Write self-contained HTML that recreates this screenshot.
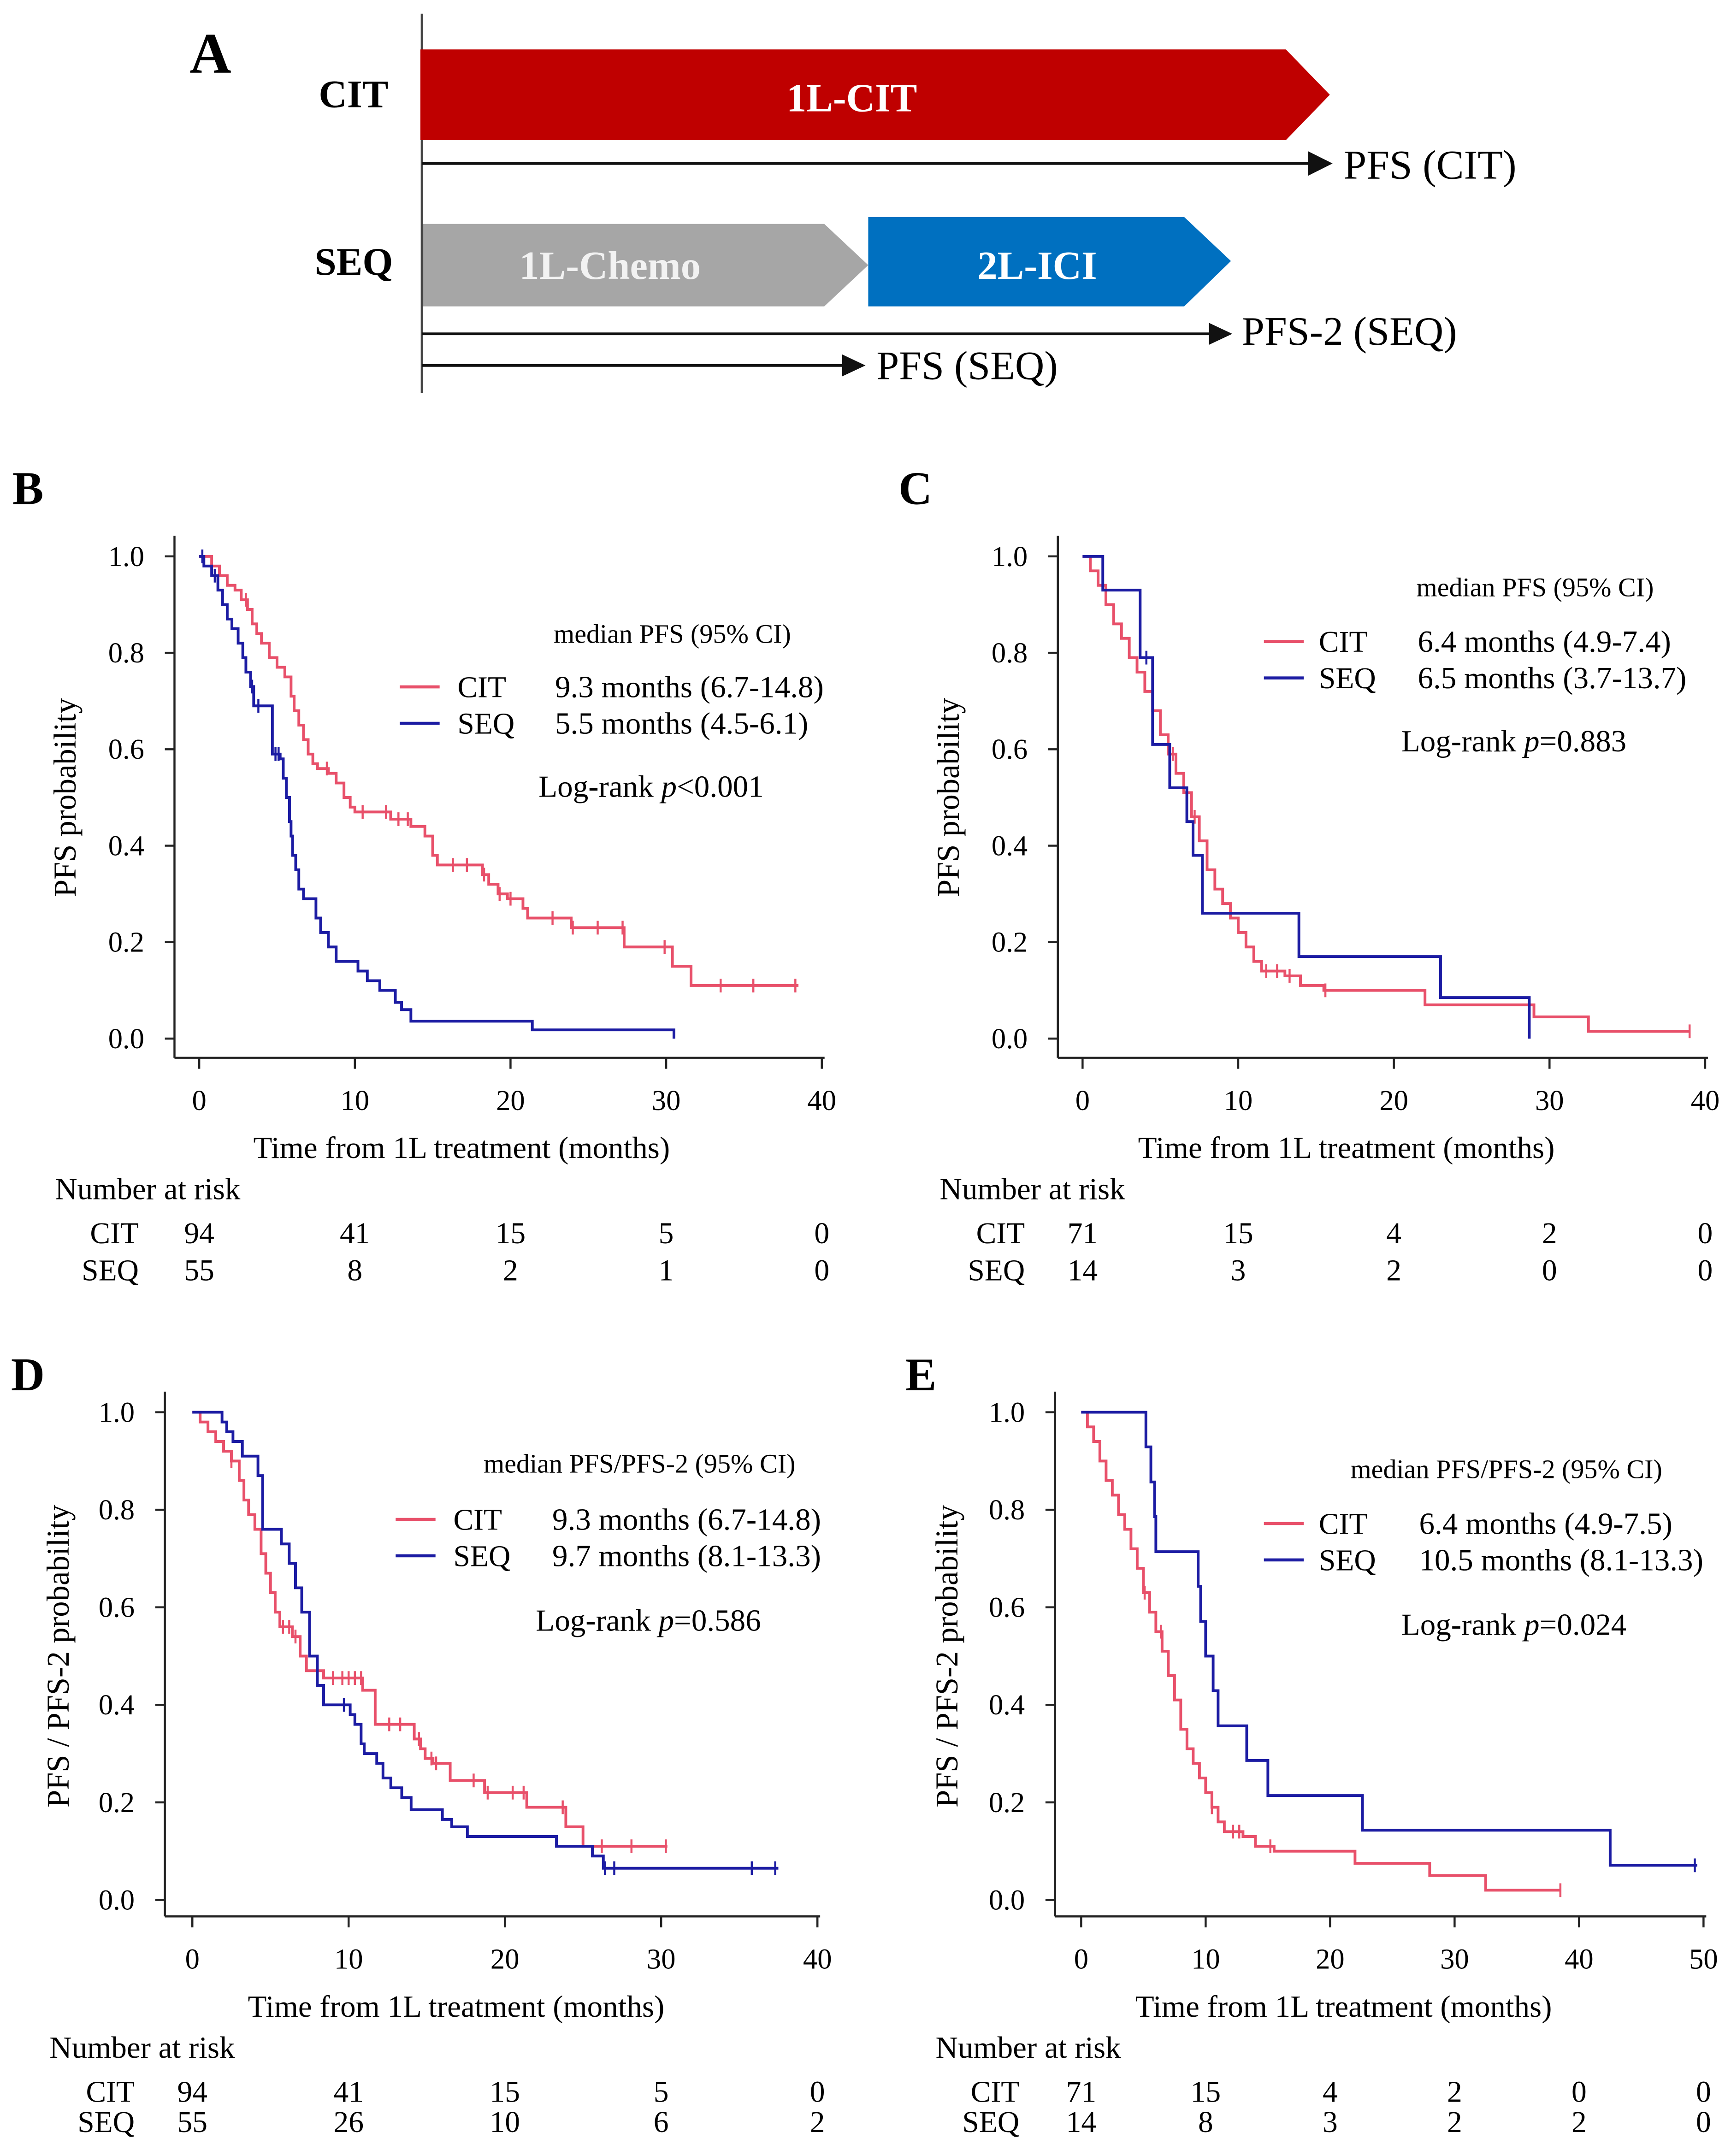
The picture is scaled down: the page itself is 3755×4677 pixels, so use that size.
<!DOCTYPE html>
<html><head><meta charset="utf-8"><style>
html,body{margin:0;padding:0;background:#fff}
svg{display:block;font-family:"Liberation Serif",serif}
</style></head><body>
<svg id="fig" width="3755" height="4677" viewBox="0 0 1260 1569.4" xmlns="http://www.w3.org/2000/svg">
<rect width="1260" height="1570" fill="#fff"/>
<g>
<text x="138" y="53" font-size="42" font-weight="bold">A</text>
<line x1="307" y1="10" x2="307" y2="286" stroke="#444" stroke-width="1.5"/>
<text x="232" y="78" font-size="28.5" font-weight="bold">CIT</text>
<polygon points="306,36 936,36 968,69 936,102 306,102" fill="#bf0000"/>
<text x="620" y="81" font-size="29" font-weight="bold" fill="#fff" text-anchor="middle">1L-CIT</text>
<line x1="307" y1="119" x2="955" y2="119" stroke="#111" stroke-width="2"/>
<polygon points="952,110 970,119 952,128" fill="#111"/>
<text x="978" y="130" font-size="30">PFS (CIT)</text>
<text x="229" y="200" font-size="28.5" font-weight="bold">SEQ</text>
<polygon points="308,163 600,163 632,193 600,223 308,223" fill="#a6a6a6"/>
<text x="444" y="203" font-size="29" font-weight="bold" fill="#f2f2f2" text-anchor="middle">1L-Chemo</text>
<polygon points="632,158 862,158 896,190 862,223 632,223" fill="#0070c0"/>
<text x="755" y="203" font-size="29" font-weight="bold" fill="#fff" text-anchor="middle">2L-ICI</text>
<line x1="307" y1="243" x2="882" y2="243" stroke="#111" stroke-width="2"/>
<polygon points="880,235 897,243 880,251" fill="#111"/>
<text x="904" y="251" font-size="29.5">PFS-2 (SEQ)</text>
<line x1="307" y1="266" x2="615" y2="266" stroke="#111" stroke-width="2"/>
<polygon points="613,258 630,266 613,274" fill="#111"/>
<text x="638" y="276" font-size="29.5">PFS (SEQ)</text>
</g>
<g id="charts"></g>
</svg>
<script>
// ---- Panel B data ----
const bCitT=[0,0.8,1.3,1.8,2.3,2.7,3.1,3.4,3.7,4.0,4.5,5.0,5.5,5.9,6.1,6.4,6.7,7.0,7.3,7.6,8.3,8.8,9.3,9.7,10.0,12.3,13.6,14.5,15.0,15.3,18.2,18.6,19.2,19.8,20.8,21.1,23.9,27.3,30.4,31.6];
const bCitS=[1,0.98,0.96,0.94,0.93,0.91,0.89,0.86,0.84,0.82,0.79,0.77,0.75,0.71,0.68,0.65,0.62,0.59,0.57,0.56,0.55,0.53,0.50,0.48,0.47,0.455,0.44,0.42,0.38,0.36,0.34,0.32,0.30,0.29,0.27,0.25,0.23,0.19,0.15,0.11];
const bCitEnd=38.5;
const bCitCens=[3,8.2,10.5,12,12.8,13.4,16.3,17.2,18.3,19.3,20,22.7,24,25.6,27.2,29.9,33.5,35.6,38.3];
const bSeqT=[0,0.3,0.8,1.2,1.5,1.8,2.1,2.5,2.8,3.0,3.3,3.5,4.7,5.2,5.4,5.6,5.8,5.9,6.0,6.2,6.4,6.7,7.5,7.8,8.3,8.8,10.2,10.8,11.6,12.6,13.0,13.6,21.4,30.5];
const bSeqS=[1,0.98,0.96,0.93,0.9,0.87,0.85,0.82,0.79,0.76,0.73,0.69,0.59,0.58,0.54,0.50,0.45,0.42,0.38,0.35,0.31,0.29,0.25,0.22,0.19,0.16,0.14,0.12,0.10,0.075,0.06,0.036,0.018,0];
const bSeqEnd=30.5;
const bSeqCens=[0.2,1.0,3.4,3.8,4.9,5.1];
// ---- Panel C data ----
const cCitT=[0,0.5,1,1.5,2,2.5,3,3.5,4,4.5,5,5.5,6,6.5,7,7.5,8,8.5,9,9.5,10,10.5,11,11.5,13,14,15.5,22,29,32.5];
const cCitS=[1,0.97,0.94,0.9,0.86,0.83,0.79,0.76,0.72,0.68,0.63,0.59,0.55,0.51,0.46,0.41,0.35,0.31,0.28,0.25,0.22,0.19,0.16,0.14,0.13,0.11,0.10,0.07,0.045,0.015];
const cCitEnd=39;
const cCitCens=[5.8,7.2,11.8,12.5,13.3,15.6,39];
const cSeqT=[0,1.3,3.7,4.5,5.6,6.7,7.1,7.7,13.9,23,28.7];
const cSeqS=[1,0.93,0.79,0.61,0.52,0.45,0.38,0.26,0.17,0.085,0];
const cSeqEnd=28.7;
const cSeqCens=[4.1];
// ---- Panel D data ----
const dCitT=[0,0.5,1,1.5,2,2.5,3,3.3,3.6,4.0,4.4,4.7,5.0,5.3,5.6,6.4,6.9,7.3,8.4,10.9,11.7,14.2,14.6,14.9,15.4,16.5,18.7,21.4,23.9,25.0];
const dCitS=[1,0.98,0.96,0.94,0.92,0.90,0.86,0.82,0.79,0.76,0.71,0.67,0.63,0.59,0.56,0.54,0.50,0.47,0.455,0.43,0.36,0.33,0.31,0.29,0.28,0.245,0.22,0.19,0.15,0.11];
const dCitEnd=30.4;
const dCitCens=[2.5,5.8,6.2,6.6,9.0,9.6,10.0,10.4,10.8,12.6,13.3,14.5,15.3,15.6,18.0,18.9,20.5,21.2,23.7,26.2,28.1,30.3];
const dSeqT=[0,1.9,2.2,2.6,3.2,4.2,4.5,5.7,6.2,6.6,7.0,7.5,8.0,8.4,10.1,10.4,10.8,11.0,11.8,12.2,12.7,13.4,14.0,16.0,16.6,17.6,23.3,25.6,26.3];
const dSeqS=[1,0.98,0.96,0.94,0.91,0.87,0.76,0.73,0.69,0.64,0.59,0.50,0.44,0.40,0.38,0.36,0.32,0.30,0.28,0.25,0.23,0.21,0.185,0.165,0.15,0.13,0.11,0.09,0.065];
const dSeqEnd=37.5;
const dSeqCens=[9.7,26.4,27.0,35.8,37.3];
// ---- Panel E data ----
const eCitT=[0,0.5,1,1.5,2,2.5,3,3.5,4,4.5,5,5.5,6,6.5,7,7.5,8,8.5,9,9.5,10,10.5,11,11.5,13,14,15.5,22,28,32.5];
const eCitS=[1,0.97,0.94,0.9,0.86,0.83,0.79,0.76,0.72,0.68,0.63,0.59,0.55,0.51,0.46,0.41,0.35,0.31,0.28,0.25,0.22,0.19,0.16,0.14,0.13,0.11,0.10,0.075,0.05,0.02];
const eCitEnd=38.5;
const eCitCens=[5.1,6.4,10.5,12.2,12.7,15.2,38.5];
const eSeqT=[0,5.2,5.6,5.9,6.0,9.4,9.6,10.0,10.6,11.0,13.3,15.0,22.6,42.5];
const eSeqS=[1,0.929,0.857,0.786,0.714,0.643,0.571,0.5,0.429,0.357,0.286,0.214,0.143,0.071];
const eSeqEnd=49.5;
const eSeqCens=[49.3];
// ---- shared labels ----
const yTickVals=[0,0.2,0.4,0.6,0.8,1.0];
const yTickLabels=["0.0","0.2","0.4","0.6","0.8","1.0"];
const xTicks40=[0,10,20,30,40];
const xTicks50=[0,10,20,30,40,50];
const riskB_cit=["94","41","15","5","0"], riskB_seq=["55","8","2","1","0"];
const riskC_cit=["71","15","4","2","0"], riskC_seq=["14","3","2","0","0"];
const riskD_cit=["94","41","15","5","0"], riskD_seq=["55","26","10","6","2"];
const riskE_cit=["71","15","4","2","0","0"], riskE_seq=["14","8","3","2","2","0"];

const NS="http://www.w3.org/2000/svg";
const CIT="#e8506a", SEQ="#1c1ca3";
const root=document.getElementById('charts');
function mk(tag,attrs,parent,text){const e=document.createElementNS(NS,tag);for(const k in attrs)e.setAttribute(k,attrs[k]);if(text!==undefined)e.textContent=text;parent.appendChild(e);return e;}

function chart(c){
  const g=mk('g',{},root);
  
  
  const X=t=>c.x0+t*c.xpm, Y=s=>c.y0-s*c.ypu;
  const L=mk('text',{x:c.lx,y:c.ly,'font-size':34,'font-weight':'bold'},g,c.id.toUpperCase());
  
  
  const ya=mk('line',{x1:c.ax,y1:c.ayTop,x2:c.ax,y2:c.axY,stroke:'#222','stroke-width':1.5},g);
  
  
  const xa=mk('line',{x1:c.ax,y1:c.axY,x2:X(c.xt[c.xt.length-1])+2,y2:c.axY,stroke:'#222','stroke-width':1.5},g);
  
  
  yTickVals.forEach((v,i)=>{
    mk('line',{x1:c.ax-7,y1:Y(v),x2:c.ax,y2:Y(v),stroke:'#222','stroke-width':1.5},g);
    const t=mk('text',{x:c.ax-22,y:Y(v)+7,'font-size':21,'text-anchor':'end'},g,yTickLabels[i]);
    
    
  });
  c.xt.forEach(v=>{
    mk('line',{x1:X(v),y1:c.axY,x2:X(v),y2:c.axY+8,stroke:'#222','stroke-width':1.5},g);
    const t=mk('text',{x:X(v),y:c.axY+38,'font-size':21,'text-anchor':'middle'},g,String(v));
    
    
  });
  const xt=mk('text',{x:c.xtc,y:c.axY+73,'font-size':22.5,'text-anchor':'middle'},g,'Time from 1L treatment (months)');
  
  
  const ymid=(Y(0)+Y(1))/2;
  const yt=mk('text',{x:0,y:0,'font-size':23,'text-anchor':'middle',transform:`translate(${c.ytx},${ymid}) rotate(-90)`},g,c.ytitle);
  
  
  function curve(T,S,end,cens,col,name){
    let d=`M${X(T[0])},${Y(S[0])}`;
    for(let i=1;i<T.length;i++){d+=` H${X(T[i])} V${Y(S[i])}`;}
    d+=` H${X(end)}`;
    const p=mk('path',{d:d,fill:'none',stroke:col,'stroke-width':2},g);
    
    
    cens.forEach(t=>{
      let s=S[0];for(let i=0;i<T.length;i++){if(T[i]<=t)s=S[i];}
      const m=mk('line',{x1:X(t),y1:Y(s)-5,x2:X(t),y2:Y(s)+5,stroke:col,'stroke-width':1.5},g);
      
      
    });
  }
  curve(c.citT,c.citS,c.citEnd,c.citCens,CIT,'cit');
  curve(c.seqT,c.seqS,c.seqEnd,c.seqCens,SEQ,'seq');
  const lg=mk('g',{},g);
  
  
  mk('text',{x:c.lhx,y:c.lhy,'font-size':19.5},lg,c.lhead);
  [[CIT,'CIT',c.lcit],[SEQ,'SEQ',c.lseq]].forEach((r,i)=>{
    const yy=c.ley+i*26.5;
    const ln=mk('line',{x1:c.llx,y1:yy,x2:c.llx+29,y2:yy,stroke:r[0],'stroke-width':2.2},lg);
    
    
    mk('text',{x:c.llx+c.lnameDx,y:yy+7.5,'font-size':22},lg,r[1]);
    mk('text',{x:c.lvx,y:yy+7.5,'font-size':22.5},lg,r[2]);
  });
  const lr=mk('text',{x:c.lrx,y:c.lry,'font-size':22.5},g);
  
  
  lr.textContent='Log-rank ';
  mk('tspan',{'font-style':'italic'},lr,'p');
  mk('tspan',{},lr,c.pval);
  const rt=mk('g',{},g);
  
  
  mk('text',{x:c.nrx,y:c.nry,'font-size':22.5},rt,'Number at risk');
  [['CIT',c.rc],['SEQ',c.rs]].forEach((r,i)=>{
    const yy=c.nry+32+i*27-(c.id>'c'?5:0)*i;
    mk('text',{x:c.nrx+c.rlabDx,y:yy,'font-size':22,'text-anchor':'end'},rt,r[0]);
    r[1].forEach((v,j)=>{mk('text',{x:X(c.xt[j]),y:yy,'font-size':22,'text-anchor':'middle'},rt,v);});
  });
}

chart({id:'b',lx:9,ly:367,x0:145,xpm:11.33,y0:756,ypu:351,ax:127,ayTop:390,axY:770,xt:xTicks40,xtc:336,
 ytx:55,ytitle:'PFS probability',citT:bCitT,citS:bCitS,citEnd:bCitEnd,citCens:bCitCens,seqT:bSeqT,seqS:bSeqS,seqEnd:bSeqEnd,seqCens:bSeqCens,
 lhx:403,lhy:468,lhead:'median PFS (95% CI)',ley:500,llx:291,lnameDx:42,lvx:404,lcit:'9.3 months (6.7-14.8)',lseq:'5.5 months (4.5-6.1)',
 lrx:392,lry:580,pval:'<0.001',nrx:40,nry:873,rlabDx:61,rc:riskB_cit,rs:riskB_seq});
chart({id:'c',lx:654,ly:367,x0:788,xpm:11.33,y0:756,ypu:351,ax:770,ayTop:390,axY:770,xt:xTicks40,xtc:980,
 ytx:698,ytitle:'PFS probability',citT:cCitT,citS:cCitS,citEnd:cCitEnd,citCens:cCitCens,seqT:cSeqT,seqS:cSeqS,seqEnd:cSeqEnd,seqCens:cSeqCens,
 lhx:1031,lhy:434,lhead:'median PFS (95% CI)',ley:467,llx:920,lnameDx:40,lvx:1032,lcit:'6.4 months (4.9-7.4)',lseq:'6.5 months (3.7-13.7)',
 lrx:1020,lry:547,pval:'=0.883',nrx:684,nry:873,rlabDx:62,rc:riskC_cit,rs:riskC_seq});
chart({id:'d',lx:8,ly:1012,x0:140,xpm:11.375,y0:1383,ypu:355,ax:120,ayTop:1013,axY:1395,xt:xTicks40,xtc:332,
 ytx:50,ytitle:'PFS / PFS-2 probability',citT:dCitT,citS:dCitS,citEnd:dCitEnd,citCens:dCitCens,seqT:dSeqT,seqS:dSeqS,seqEnd:dSeqEnd,seqCens:dSeqCens,
 lhx:352,lhy:1072,lhead:'median PFS/PFS-2 (95% CI)',ley:1106,llx:288,lnameDx:42,lvx:402,lcit:'9.3 months (6.7-14.8)',lseq:'9.7 months (8.1-13.3)',
 lrx:390,lry:1187,pval:'=0.586',nrx:36,nry:1498,rlabDx:62,rc:riskD_cit,rs:riskD_seq});
chart({id:'e',lx:659,ly:1012,x0:787,xpm:9.06,y0:1383,ypu:355,ax:768,ayTop:1013,axY:1395,xt:xTicks50,xtc:978,
 ytx:697,ytitle:'PFS / PFS-2 probability',citT:eCitT,citS:eCitS,citEnd:eCitEnd,citCens:eCitCens,seqT:eSeqT,seqS:eSeqS,seqEnd:eSeqEnd,seqCens:eSeqCens,
 lhx:983,lhy:1076,lhead:'median PFS/PFS-2 (95% CI)',ley:1109,llx:920,lnameDx:40,lvx:1033,lcit:'6.4 months (4.9-7.5)',lseq:'10.5 months (8.1-13.3)',
 lrx:1020,lry:1190,pval:'=0.024',nrx:681,nry:1498,rlabDx:61,rc:riskE_cit,rs:riskE_seq});
</script>
</body></html>
